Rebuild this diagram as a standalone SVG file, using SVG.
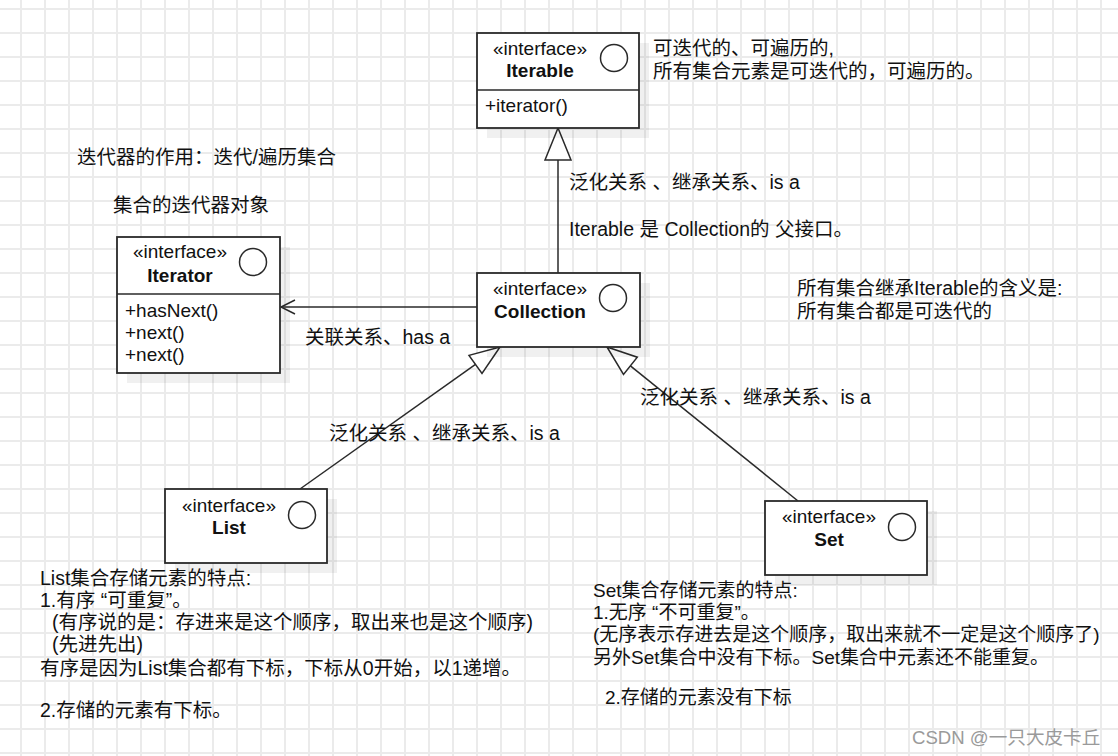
<svg xmlns="http://www.w3.org/2000/svg" width="1118" height="756" viewBox="0 0 1118 756">
<style>
.t{font-family:"Liberation Sans","Noto Sans CJK SC",sans-serif;font-size:19px;fill:#111}
.w{font-size:19.5px}
.b{font-weight:bold}
.m{text-anchor:middle}
.box{fill:#fff;stroke:#2a2a2a;stroke-width:1.8}
.sh{fill:#000;fill-opacity:0.06}
.ic{fill:none;stroke:#2a2a2a;stroke-width:1.5}
.ln{fill:none;stroke:#2a2a2a;stroke-width:1.5}
.tri{fill:#fff;stroke:#2a2a2a;stroke-width:1.5}
.wm{font-family:"Liberation Sans","Noto Sans CJK SC",sans-serif;font-size:18.6px;fill:#9a9a9a}
</style>
<defs>
<pattern id="grid" width="24" height="24" patternUnits="userSpaceOnUse" x="20" y="8">
<rect x="0" y="0" width="24" height="24" fill="#fff"/>
<rect x="0" y="0" width="2" height="24" fill="#ebebeb"/>
<rect x="0" y="0" width="24" height="2" fill="#ebebeb"/>
</pattern>
</defs>
<rect x="0" y="0" width="1118" height="756" fill="url(#grid)"/>

<g id="connectors">
<line class="ln" x1="558" y1="160" x2="558" y2="273"/>
<polygon class="tri" points="558,128 545,160 571,160"/>
<line class="ln" x1="477" y1="307" x2="282" y2="307"/>
<polyline class="ln" points="295,300 281,307 295,314"/>
<line class="ln" x1="300" y1="489" x2="475.5" y2="364.4"/>
<polygon class="tri" points="500,347 482,373.4 469,355.4"/>
<line class="ln" x1="798" y1="501" x2="630.4" y2="365.8"/>
<polygon class="tri" points="607,347 637.3,357.2 623.5,374.4"/>
</g>

<g id="node-iterable">
<rect class="sh" x="487" y="43" width="162" height="95"/>
<rect class="box" x="477" y="33" width="162" height="95"/>
<line class="ln" x1="477" y1="90" x2="639" y2="90"/>
<circle class="ic" cx="614" cy="58" r="13.5"/>
<text class="t m" x="540" y="55">«interface»</text>
<text class="t b m" x="540" y="77">Iterable</text>
<text class="t" x="485" y="112">+iterator()</text>
</g>

<g id="node-iterator">
<rect class="sh" x="127" y="247" width="163" height="136"/>
<rect class="box" x="117" y="237" width="163" height="136"/>
<line class="ln" x1="117" y1="294" x2="280" y2="294"/>
<circle class="ic" cx="253" cy="262" r="13.5"/>
<text class="t m" x="180" y="258">«interface»</text>
<text class="t b m" x="180" y="282">Iterator</text>
<text class="t" x="125" y="317">+hasNext()</text>
<text class="t" x="125" y="339">+next()</text>
<text class="t" x="125" y="361">+next()</text>
</g>

<g id="node-collection">
<rect class="sh" x="487" y="283" width="163" height="74"/>
<rect class="box" x="477" y="273" width="163" height="74"/>
<circle class="ic" cx="613" cy="298" r="13.5"/>
<text class="t m" x="540" y="295">«interface»</text>
<text class="t b m" x="540" y="318">Collection</text>
</g>

<g id="node-list">
<rect class="sh" x="175" y="499" width="162" height="74"/>
<rect class="box" x="165" y="489" width="162" height="74"/>
<circle class="ic" cx="302" cy="515" r="13.5"/>
<text class="t m" x="229" y="512">«interface»</text>
<text class="t b m" x="229" y="534">List</text>
</g>

<g id="node-set">
<rect class="sh" x="775" y="511" width="162" height="74"/>
<rect class="box" x="765" y="501" width="162" height="74"/>
<circle class="ic" cx="902" cy="527" r="13.5"/>
<text class="t m" x="829" y="523">«interface»</text>
<text class="t b m" x="829" y="546">Set</text>
</g>

<g id="labels">
<text class="t w" x="653" y="55">可迭代的、可遍历的,</text>
<text class="t w" x="653" y="78">所有集合元素是可迭代的，可遍历的。</text>
<text class="t w" x="77" y="164">迭代器的作用：迭代/遍历集合</text>
<text class="t w" x="113" y="212">集合的迭代器对象</text>
<text class="t w" x="569" y="189">泛化关系 、继承关系、is a</text>
<text class="t w" x="569" y="236">Iterable 是 Collection的 父接口。</text>
<text class="t w" x="797" y="295">所有集合继承Iterable的含义是:</text>
<text class="t w" x="797" y="318">所有集合都是可迭代的</text>
<text class="t w" x="305" y="344">关联关系、has a</text>
<text class="t w" x="640" y="404">泛化关系 、继承关系、is a</text>
<text class="t w" x="329" y="440">泛化关系 、继承关系、is a</text>
</g>

<g id="list-notes">
<text class="t w" x="40" y="585">List集合存储元素的特点:</text>
<text class="t w" x="40" y="607">1.有序 “可重复”。</text>
<text class="t w" x="52" y="629">(有序说的是：存进来是这个顺序，取出来也是这个顺序)</text>
<text class="t w" x="52" y="651">(先进先出)</text>
<text class="t w" x="40" y="675">有序是因为List集合都有下标，下标从0开始，以1递增。</text>
<text class="t w" x="40" y="717">2.存储的元素有下标。</text>
</g>

<g id="set-notes">
<text class="t" x="593" y="597">Set集合存储元素的特点:</text>
<text class="t" x="593" y="619">1.无序 “不可重复”。</text>
<text class="t" x="593" y="641">(无序表示存进去是这个顺序，取出来就不一定是这个顺序了)</text>
<text class="t" x="593" y="664">另外Set集合中没有下标。Set集合中元素还不能重复。</text>
<text class="t" x="605" y="704">2.存储的元素没有下标</text>
</g>

<text class="wm" x="912" y="744">CSDN @一只大皮卡丘</text>
</svg>
